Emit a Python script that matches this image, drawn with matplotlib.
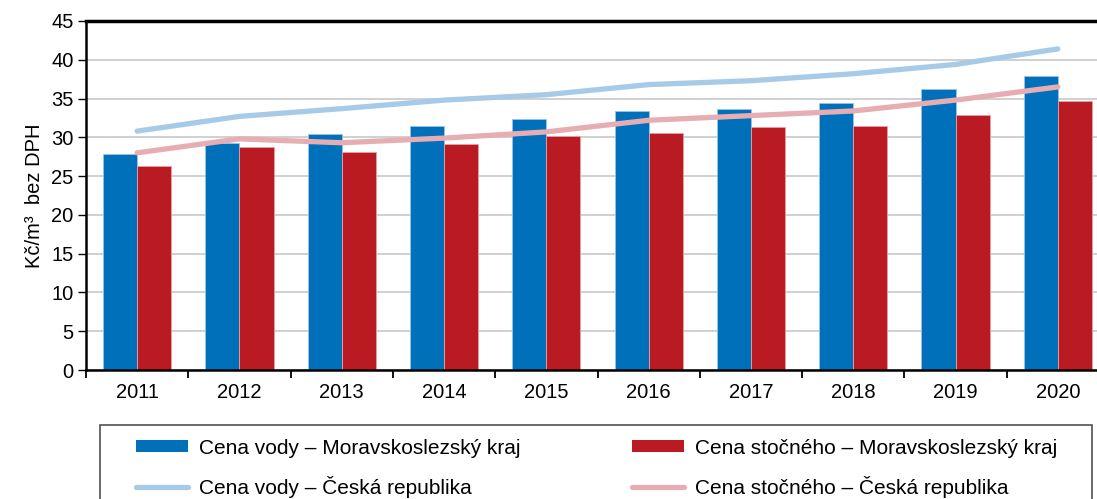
import numpy as np
import matplotlib.pyplot as plt
from matplotlib.patches import Patch, Rectangle
from matplotlib.lines import Line2D

plt.rcParams['font.family'] = ['Liberation Sans', 'DejaVu Sans']

# Data
roky = ["2011", "2012", "2013", "2014", "2015", "2016", "2017", "2018", "2019", "2020"]
voda_msk = [27.9, 29.3, 30.4, 31.5, 32.4, 33.35, 33.7, 34.4, 36.2, 37.9]
stocne_msk = [26.3, 28.7, 28.1, 29.1, 30.2, 30.5, 31.3, 31.5, 32.9, 34.7]
voda_cr = [30.8, 32.7, 33.7, 34.8, 35.5, 36.8, 37.3, 38.2, 39.4, 41.4]
stocne_cr = [28.0, 29.8, 29.3, 29.9, 30.7, 32.2, 32.8, 33.4, 34.8, 36.5]

labels = ["Cena vody – Moravskoslezský kraj",
          "Cena stočného – Moravskoslezský kraj",
          "Cena vody – Česká republika",
          "Cena stočného – Česká republika"]

c_blue = "#0070BA"
c_red = "#BA1A22"
c_lblue = "#A7CBE6"
c_pink = "#E6AEB2"

W, H = 1097, 499
fig = plt.figure(figsize=(W / 100, H / 100), dpi=100)
ax = fig.add_axes([86 / W, 1 - 370 / H, (1109 - 86) / W, (370 - 21) / H])

x = np.arange(len(roky))
w = 0.333
ax.bar(x - w / 2, voda_msk, w, color=c_blue, edgecolor="#9CC3E6", linewidth=0.6, zorder=2)
ax.bar(x + w / 2, stocne_msk, w, color=c_red, edgecolor="#E8A0A4", linewidth=0.6, zorder=2)
ax.plot(x, voda_cr, color=c_lblue, lw=3.8, solid_capstyle="round", solid_joinstyle="round", zorder=3)
ax.plot(x, stocne_cr, color=c_pink, lw=3.8, solid_capstyle="round", solid_joinstyle="round", zorder=3)

ax.set_xlim(-0.5, 9.5)
ax.set_ylim(0, 45)
ax.set_yticks(range(0, 46, 5))
ax.yaxis.grid(True, color="#C8C8C8", lw=1.2, zorder=0)
ax.set_axisbelow(True)

ax.set_xticks(x)
ax.set_xticklabels(roky)
ax.set_xticks(np.arange(-0.5, 10, 1), minor=True)
ax.tick_params(axis="x", which="major", length=0, pad=9, labelsize=14.5)
ax.tick_params(axis="x", which="minor", length=6, width=1.3, direction="out")
ax.tick_params(axis="y", length=6, width=1, direction="out", labelsize=14.5, pad=3)

for s in ["left", "bottom"]:
    ax.spines[s].set_linewidth(1.8)
ax.spines["top"].set_linewidth(2.5)
ax.spines["right"].set_visible(False)

ax.set_ylabel("Kč/m³  bez DPH", fontsize=14.5, labelpad=5)

# legend frame
fig.patches.append(Rectangle((100 / W, -0.05), (1092 - 100) / W, 0.05 + 1 - 425 / H,
                             transform=fig.transFigure, facecolor="none",
                             edgecolor="#505050", linewidth=1.2))

h_blue = Patch(facecolor=c_blue, edgecolor="none")
h_red = Patch(facecolor=c_red, edgecolor="none")
h_lblue = Line2D([], [], color=c_lblue, lw=3.8, solid_capstyle="round")
h_pink = Line2D([], [], color=c_pink, lw=3.8, solid_capstyle="round")

leg_kw = dict(loc="upper left", fontsize=15, frameon=False, handlelength=2.5,
              handleheight=0.53, labelspacing=0.87, borderpad=0, borderaxespad=0,
              handletextpad=0.53)
fig.legend([h_blue, h_lblue], [labels[0], labels[2]],
           bbox_to_anchor=(136 / W, 1 - 438.5 / H), **leg_kw)
fig.legend([h_red, h_pink], [labels[1], labels[3]],
           bbox_to_anchor=(632 / W, 1 - 438.5 / H), **leg_kw)

fig.savefig("out.png", dpi=100)
